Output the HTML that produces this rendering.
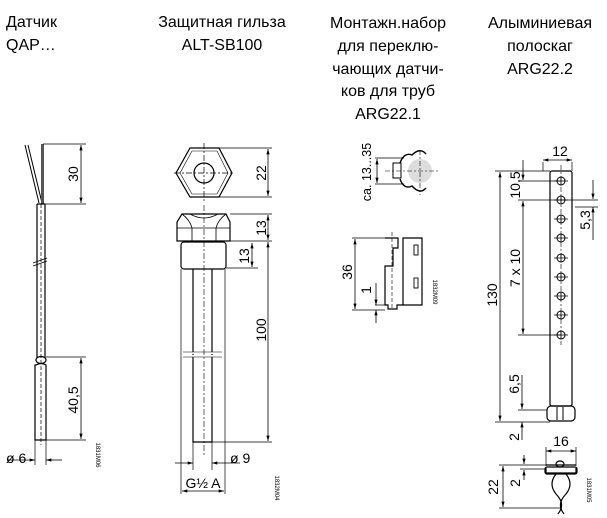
<!DOCTYPE html>
<html><head><meta charset="utf-8"><style>
html,body{margin:0;padding:0;background:#fff;}
svg{display:block;font-family:"Liberation Sans",Arial,sans-serif;}
.t{font-size:16px;fill:#000;}
.d{font-size:14px;fill:#000;}
.s{font-size:6px;fill:#000;}
</style></head><body>
<svg width="607" height="518" viewBox="0 0 607 518" xmlns="http://www.w3.org/2000/svg">
<defs><marker id="a" viewBox="0 0 10 6" refX="10" refY="3" markerWidth="7" markerHeight="4" orient="auto-start-reverse"><path d="M0,0L10,3L0,6z" fill="#000"/></marker></defs>
<g class="t">
<text x="6" y="27">Датчик</text><text x="6" y="50">QAP…</text>
<text x="222" y="27" text-anchor="middle">Защитная гильза</text><text x="222" y="50" text-anchor="middle">ALT-SB100</text>
<text x="388" y="28" text-anchor="middle">Монтажн.набор</text><text x="388" y="51" text-anchor="middle">для переклю-</text>
<text x="388" y="74" text-anchor="middle">чающих датчи-</text><text x="388" y="96" text-anchor="middle">ков для труб</text>
<text x="388" y="119" text-anchor="middle">ARG22.1</text>
<text x="540" y="28" text-anchor="middle">Алыминиевая</text><text x="540" y="51" text-anchor="middle">полоскаг</text><text x="540" y="74" text-anchor="middle">ARG22.2</text>
</g>
<g fill="none" stroke="#000" stroke-width="1.2">
<path d="M25,145L39,203M28,145L42,203" stroke-width="1"/>
<rect x="41" y="144" width="3" height="60" fill="#555" stroke="none"/>
<path d="M37,204V358M45,204V358M37,204H45"/>
<path d="M33,263L47,258M33,266L47,261" stroke-width="0.8"/>
<ellipse cx="41" cy="360" rx="5" ry="3.5"/>
<path d="M36,365Q41,362 46,365V440H35V365Z"/>
<path d="M41,204V445" stroke-dasharray="4,2" stroke-width="0.7"/>
<path d="M43,144H86M45,204H86M46,357H86M46,440H86" stroke-width="0.7"/>
<line x1="81" y1="145" x2="81" y2="203" marker-start="url(#a)" marker-end="url(#a)" stroke-width="0.8"/>
<line x1="81" y1="358" x2="81" y2="439" marker-start="url(#a)" marker-end="url(#a)" stroke-width="0.8"/>
<path d="M35,440V465M46,440V465" stroke-width="0.7"/>
<line x1="8" y1="460" x2="35" y2="460" marker-end="url(#a)" stroke-width="0.8"/>
<line x1="62" y1="460" x2="46" y2="460" marker-end="url(#a)" stroke-width="0.8"/>
<path d="M190,148H219L232,173L219,197H190L176,173Z"/>
<path d="M192,151H217L228,173L217,194H192L180,173Z" stroke-width="0.6"/>
<circle cx="204" cy="173" r="10"/>
<path d="M174,173H234M204,143V203" stroke-dasharray="6,2,2,2" stroke-width="0.7"/>
<path d="M219,148H272M219,197H272" stroke-width="0.7"/>
<line x1="268" y1="149" x2="268" y2="196" marker-start="url(#a)" marker-end="url(#a)" stroke-width="0.8"/>
<path d="M182,214H226L230,222V241H177V222Z"/>
<path d="M177,228H230M182,214Q190,220 192,228M226,214Q218,220 216,228M190,214Q204,222 218,214M192,228V241M216,228V241" stroke-width="0.8"/>
<rect x="181" y="242" width="45" height="27" rx="3"/>
<path d="M193,269V442H212V269"/>
<path d="M181,269V468M225,269V468" stroke-width="0.7"/>
<path d="M184,353H222M184,356H222" stroke="#fff" stroke-width="2"/>
<path d="M183,352H222M183,357H222" stroke-width="0.6"/>
<path d="M204,205V455" stroke-dasharray="6,2,2,2" stroke-width="0.6"/>
<path d="M230,214H272M230,241H272M226,268H258M212,442H272" stroke-width="0.7"/>
<line x1="268" y1="215" x2="268" y2="240" marker-start="url(#a)" marker-end="url(#a)" stroke-width="0.8"/>
<line x1="268" y1="242" x2="268" y2="441" marker-start="url(#a)" marker-end="url(#a)" stroke-width="0.8"/>
<line x1="252" y1="243" x2="252" y2="267" marker-start="url(#a)" marker-end="url(#a)" stroke-width="0.8"/>
<path d="M193,442V470M212,442V470" stroke-width="0.7"/>
<line x1="175" y1="463" x2="193" y2="463" marker-end="url(#a)" stroke-width="0.8"/>
<line x1="240" y1="463" x2="212" y2="463" marker-end="url(#a)" stroke-width="0.8"/>
<path d="M181,468V494M225,468V494" stroke-width="0.7"/>
<line x1="182" y1="491" x2="224" y2="491" marker-start="url(#a)" marker-end="url(#a)" stroke-width="0.8"/>
<circle cx="420" cy="171" r="12" fill="#ddd" stroke="none"/>
<path d="M400,163Q404,152 412,155Q420,147 426,154M400,179Q404,190 412,186Q420,195 426,188" stroke-width="1.4"/>
<path d="M401,163H393V178H401Z" stroke-width="1"/>
<path d="M375,158H404M375,184H404" stroke-width="0.7"/>
<line x1="377" y1="159" x2="377" y2="183" marker-start="url(#a)" marker-end="url(#a)" stroke-width="0.8"/>
<path d="M385,171H438M420,150V195" stroke-dasharray="5,2,2,2" stroke-width="0.6"/>
<path d="M385,238H398V248H393V266H385V305H388V309H397V305H422V238H403V305" stroke-width="1.2"/>
<rect x="414" y="245" width="4" height="10" stroke-width="0.9"/><rect x="414" y="278" width="4" height="10" stroke-width="0.9"/>
<path d="M392,232V310" stroke-dasharray="4,2" stroke-width="0.6"/>
<path d="M352,238H385M352,310H385M375,305H388" stroke-width="0.7"/>
<line x1="355" y1="239" x2="355" y2="309" marker-start="url(#a)" marker-end="url(#a)" stroke-width="0.8"/>
<line x1="376" y1="283" x2="376" y2="305" marker-end="url(#a)" stroke-width="0.8"/>
<line x1="376" y1="323" x2="376" y2="310" marker-end="url(#a)" stroke-width="0.8"/>
<rect x="550" y="171" width="22" height="235" rx="2"/>
<path d="M561,165V345" stroke-dasharray="5,2,2,2" stroke-width="0.6"/>
<g stroke-width="1">
<circle cx="561" cy="181" r="4"/><circle cx="561" cy="200" r="4"/><circle cx="561" cy="219" r="4"/><circle cx="561" cy="238" r="4"/><circle cx="561" cy="258" r="4"/><circle cx="561" cy="277" r="4"/><circle cx="561" cy="296" r="4"/><circle cx="561" cy="315" r="4"/><circle cx="561" cy="335" r="4"/>
</g>
<path d="M554,181H568M554,200H568M554,219H568M554,238H568M554,258H568M554,277H568M554,296H568M554,315H568M554,335H568M561,177V185M561,196V204M561,215V223M561,234V242M561,254V262M561,273V281M561,292V300M561,311V319M561,331V339" stroke-width="0.8"/>
<rect x="547" y="406" width="28" height="15" rx="4"/>
<path d="M557,407V420M563,407V420" stroke-width="1"/>
<path d="M495,171H550M495,422H550M518,181H561M518,200H598M518,335H561M518,410H547" stroke-width="0.7"/>
<path d="M543,162V171M572,162V171" stroke-width="0.7"/>
<line x1="543" y1="160" x2="572" y2="160" marker-start="url(#a)" marker-end="url(#a)" stroke-width="0.8"/>
<line x1="500" y1="172" x2="500" y2="421" marker-start="url(#a)" marker-end="url(#a)" stroke-width="0.8"/>
<line x1="523" y1="160" x2="523" y2="180" marker-end="url(#a)" stroke-width="0.8"/>
<line x1="523" y1="201" x2="523" y2="334" marker-start="url(#a)" marker-end="url(#a)" stroke-width="0.8"/>
<line x1="522" y1="375" x2="522" y2="409" marker-end="url(#a)" stroke-width="0.8"/>
<line x1="522" y1="440" x2="522" y2="422" marker-end="url(#a)" stroke-width="0.8"/>
<line x1="593" y1="180" x2="593" y2="199" marker-end="url(#a)" stroke-width="0.8"/>
<line x1="593" y1="240" x2="593" y2="207" marker-end="url(#a)" stroke-width="0.8"/>
<path d="M575,207H598" stroke-width="0.7"/>
<path d="M546,465H576M546,468V473H576V468" stroke-width="1.2"/>
<rect x="545" y="467" width="32" height="7" rx="2"/>
<ellipse cx="560" cy="464" rx="4" ry="3"/>
<path d="M556,474Q548,484 556,494Q566,504 558,514M566,474Q574,484 566,494Q556,504 564,514" stroke-width="1.2"/>
<path d="M546,447V466M576,447V466" stroke-width="0.7"/>
<line x1="546" y1="451" x2="576" y2="451" marker-start="url(#a)" marker-end="url(#a)" stroke-width="0.8"/>
<path d="M499,465H555M520,469H546M499,508H562" stroke-width="0.7"/>
<line x1="503" y1="466" x2="503" y2="507" marker-start="url(#a)" marker-end="url(#a)" stroke-width="0.8"/>
<line x1="524" y1="455" x2="524" y2="464" marker-end="url(#a)" stroke-width="0.8"/>
<line x1="524" y1="480" x2="524" y2="470" marker-end="url(#a)" stroke-width="0.8"/>
</g>
<g class="d">
<text transform="translate(78,174) rotate(-90)" text-anchor="middle">30</text>
<text transform="translate(78,400) rotate(-90)" text-anchor="middle">40,5</text>
<text x="6" y="463">ø 6</text>
<text transform="translate(266,173) rotate(-90)" text-anchor="middle">22</text>
<text transform="translate(266,228) rotate(-90)" text-anchor="middle">13</text>
<text transform="translate(249,256) rotate(-90)" text-anchor="middle">13</text>
<text transform="translate(266,330) rotate(-90)" text-anchor="middle">100</text>
<text x="230" y="463">ø 9</text>
<text x="203" y="488" text-anchor="middle">G½ A</text>
<text transform="translate(371,172) rotate(-90)" text-anchor="middle" style="font-size:12.5px">ca. 13...35</text>
<text transform="translate(352,272) rotate(-90)" text-anchor="middle">36</text>
<text transform="translate(371,290) rotate(-90)" text-anchor="middle">1</text>
<text x="560" y="156" text-anchor="middle">12</text>
<text transform="translate(520,185) rotate(-90)" text-anchor="middle">10,5</text>
<text transform="translate(590,220) rotate(-90)" text-anchor="middle">5,3</text>
<text transform="translate(520,268) rotate(-90)" text-anchor="middle">7 x 10</text>
<text transform="translate(497,295) rotate(-90)" text-anchor="middle">130</text>
<text transform="translate(519,384) rotate(-90)" text-anchor="middle">6,5</text>
<text transform="translate(519,437) rotate(-90)" text-anchor="middle">2</text>
<text x="561" y="446" text-anchor="middle">16</text>
<text transform="translate(520,483) rotate(-90)" text-anchor="middle">2</text>
<text transform="translate(498,487) rotate(-90)" text-anchor="middle">22</text>
</g>
<g class="s">
<text transform="translate(96,455) rotate(90)" text-anchor="middle">1831M06</text>
<text transform="translate(275,488) rotate(90)" text-anchor="middle">1832M04</text>
<text transform="translate(433,292) rotate(90)" text-anchor="middle">1832M09</text>
<text transform="translate(587,490) rotate(90)" text-anchor="middle">1831M05</text>
</g>
</svg>
</body></html>
